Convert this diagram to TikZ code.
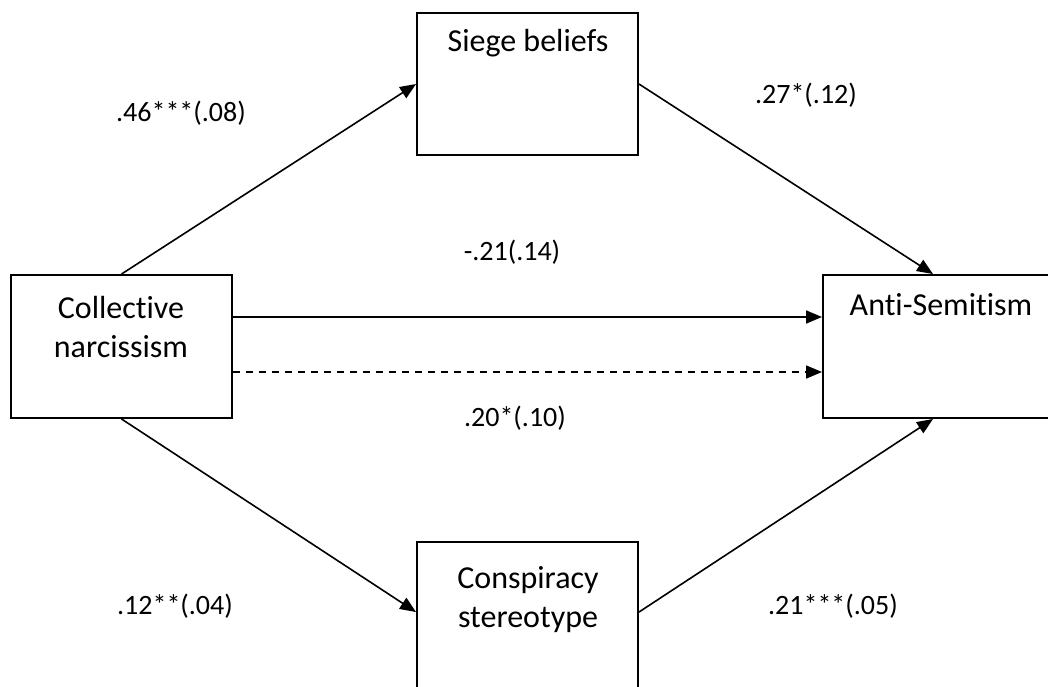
\documentclass[tikz,border=0pt]{standalone}
\usepackage{fontspec}
\setmainfont{Carlito}[RawFeature=-liga]
\usetikzlibrary{arrows.meta}
\begin{document}
\begin{tikzpicture}[x=1pt,y=-1pt,
  box/.style={draw,line width=1.9pt,minimum width=221pt,minimum height=143pt,inner sep=0pt},
  boxtext/.style={font=\fontsize{32}{39}\selectfont,align=center,inner sep=0pt},
  coef/.style={font=\fontsize{28}{34}\selectfont,inner sep=0pt},
  path/.style={line width=1.6pt,-{Triangle[length=16pt,width=13pt]}}]
\useasboundingbox (0,0) rectangle (1048,686);
\fill[white] (0,0) rectangle (1048,686);
% boxes
\node[box] (coll) at (121.5,346.5) {};
\node[box,minimum height=142pt] (siege) at (527.5,84) {};
\node[box,minimum height=160pt] (consp) at (527.5,622) {};
\node[box,minimum width=237pt] (anti) at (941.5,346.5) {};
% box texts
\node[boxtext] (tcoll) at (121,327) {Collective\\narcissism};
\node[boxtext] (tsiege) at (528,43) {Siege beliefs};
\node[boxtext] (tconsp) at (528,600) {Conspiracy\\stereotype};
\node[boxtext] (tanti) at (941,305) {Anti-Semitism};
% connector end points
\coordinate (cIn) at ([yshift=-71pt]consp.north west);
\coordinate (cOut) at ([yshift=-71pt]consp.north east);
\coordinate (aTop) at ([xshift=-8.5pt]anti.north);
\coordinate (aBot) at ([xshift=-8.5pt]anti.south);
\coordinate (dOut) at ([yshift=29.5pt]coll.east);
\coordinate (dIn) at ([yshift=29.5pt]anti.west);
\coordinate (iOut) at ([yshift=-25.5pt]coll.east);
\coordinate (iIn) at ([yshift=-25.5pt]anti.west);
% connectors
\draw[path] (coll.north) -- (siege.west);
\draw[path] (siege.east) -- (aTop);
\draw[path] (coll.south) -- (cIn);
\draw[path] (cOut) -- (aBot);
\draw[path] (dOut) -- (dIn);
\draw[path,dash pattern=on 7pt off 6pt] (iOut) -- (iIn);
% coefficients
\node[coef] (l1) at (181,113) {.46***(.08)};
\node[coef] (l2) at (806,95) {.27*(.12)};
\node[coef] (l3) at (512,252) {-.21(.14)};
\node[coef] (l4) at (515,418) {.20*(.10)};
\node[coef] (l5) at (175,606) {.12**(.04)};
\node[coef] (l6) at (833,606) {.21***(.05)};
\end{tikzpicture}
\end{document}
